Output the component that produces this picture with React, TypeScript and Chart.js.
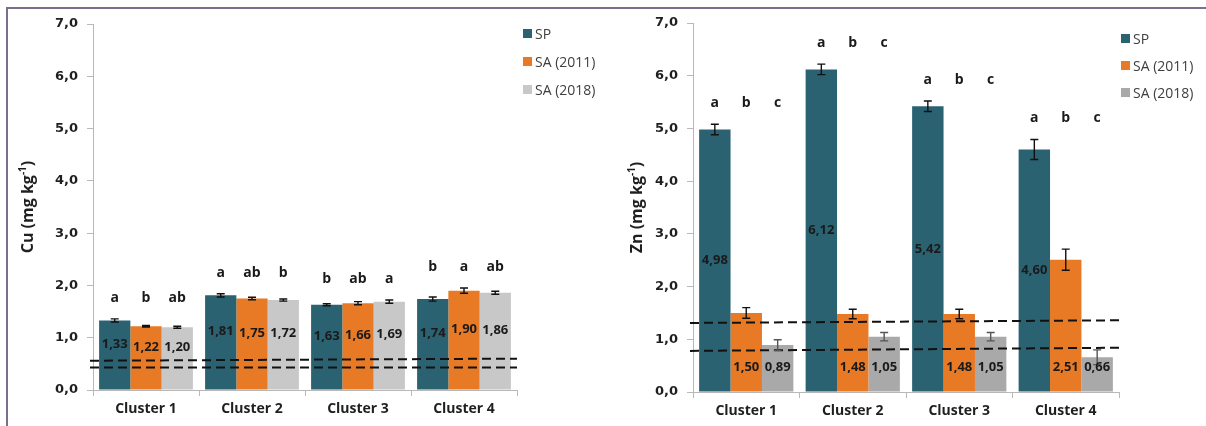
import React, { useEffect, useRef } from "react";
import { Chart, registerables } from "chart.js";
Chart.register(...registerables);

// ---------- data ----------
const clusters = ["Cluster 1", "Cluster 2", "Cluster 3", "Cluster 4"];
const seriesNames = ["SP", "SA (2011)", "SA (2018)"];

const cuSP = [1.33, 1.81, 1.63, 1.74];
const cuSA2011 = [1.22, 1.75, 1.66, 1.9];
const cuSA2018 = [1.2, 1.72, 1.69, 1.86];
const cuErrSP = [0.03, 0.03, 0.02, 0.04];
const cuErrSA2011 = [0.015, 0.025, 0.03, 0.05];
const cuErrSA2018 = [0.02, 0.02, 0.03, 0.03];
const cuLetters = [
  ["a", "b", "ab"],
  ["a", "ab", "b"],
  ["b", "ab", "a"],
  ["b", "a", "ab"],
];
const cuRefLines = [
  [0.56, 0.6],
  [0.43, 0.43],
];

const znSP = [4.98, 6.12, 5.42, 4.6];
const znSA2011 = [1.5, 1.48, 1.48, 2.51];
const znSA2018 = [0.89, 1.05, 1.05, 0.66];
const znErrSP = [0.1, 0.1, 0.1, 0.19];
const znErrSA2011 = [0.1, 0.09, 0.09, 0.2];
const znErrSA2018 = [0.1, 0.08, 0.08, 0.14];
const znLetters = [
  ["a", "b", "c"],
  ["a", "b", "c"],
  ["a", "b", "c"],
  ["a", "b", "c"],
];
const znRefLines = [
  [1.31, 1.36],
  [0.78, 0.84],
];

const yMin = 0;
const yMax = 7;
const yStep = 1;

// ---------- styles ----------
const TEAL = "#2a6272";
const ORANGE = "#e87a25";
const GRAY_LIGHT = "#c8c8c8";
const GRAY_DARK = "#a9a9a9";
const AXIS = "#b8b8b8";
const TEXT = "#1f1f1f";
const FONT = "'Open Sans', 'DejaVu Sans', sans-serif";

const fmt = (v: number, d: number) => v.toFixed(d).replace(".", ",");

type PanelSpec = {
  values: number[][];
  errors: number[][];
  colors: string[];
  errColors: string[];
  letters: string[][];
  refLines: number[][];
  titleMain: string;
  yAxisWidth: number;
  xAxisHeight: number;
  padTop: number;
  padRight: number;
  titleX: number;
  labelMode: "cu" | "zn";
};

function makeOverlay(spec: PanelSpec) {
  return {
    id: "overlay",
    afterDatasetsDraw(chart: any) {
      const ctx = chart.ctx as CanvasRenderingContext2D;
      const yScale = chart.scales.y;
      const area = chart.chartArea;
      ctx.save();
      // reference dashed lines
      ctx.strokeStyle = "#111";
      ctx.lineWidth = 2;
      ctx.setLineDash([9, 5]);
      spec.refLines.forEach((ln) => {
        ctx.beginPath();
        ctx.moveTo(area.left - 3, yScale.getPixelForValue(ln[0]));
        ctx.lineTo(area.right, yScale.getPixelForValue(ln[1]));
        ctx.stroke();
      });
      ctx.setLineDash([]);
      // error bars
      spec.values.forEach((vals, di) => {
        const meta = chart.getDatasetMeta(di);
        ctx.strokeStyle = spec.errColors[di];
        ctx.lineWidth = 1.4;
        vals.forEach((v, i) => {
          const el = meta.data[i];
          const e = spec.errors[di][i];
          const yt = yScale.getPixelForValue(v + e);
          const yb = yScale.getPixelForValue(v - e);
          ctx.beginPath();
          ctx.moveTo(el.x, yt);
          ctx.lineTo(el.x, yb);
          ctx.moveTo(el.x - 4, yt);
          ctx.lineTo(el.x + 4, yt);
          ctx.moveTo(el.x - 4, yb);
          ctx.lineTo(el.x + 4, yb);
          ctx.stroke();
        });
      });
      // value labels
      ctx.fillStyle = "#1a1a1a";
      ctx.font = `bold 13px ${FONT}`;
      ctx.textAlign = "center";
      ctx.textBaseline = "middle";
      spec.values.forEach((vals, di) => {
        const meta = chart.getDatasetMeta(di);
        vals.forEach((v, i) => {
          const el = meta.data[i];
          let y: number;
          if (spec.labelMode === "cu") {
            y = (el.y + el.base) / 2 - 11;
          } else if (di === 0) {
            y = (el.y + el.base) / 2;
          } else {
            y = el.base - 24;
          }
          ctx.fillText(fmt(v, 2), el.x, y);
        });
      });
      // significance letters
      ctx.font = `bold 14px ${FONT}`;
      clusters.forEach((_, i) => {
        let top = Infinity;
        spec.values.forEach((vals, di) => {
          top = Math.min(top, yScale.getPixelForValue(vals[i] + spec.errors[di][i]));
        });
        spec.values.forEach((_v, di) => {
          const el = chart.getDatasetMeta(di).data[i];
          ctx.fillText(spec.letters[i][di], el.x, top - 21);
        });
      });
      // y title
      const cy = (area.top + area.bottom) / 2;
      ctx.translate(spec.titleX, cy);
      ctx.rotate(-Math.PI / 2);
      ctx.textAlign = "left";
      ctx.textBaseline = "middle";
      const big = `bold 16px ${FONT}`;
      const small = `bold 10px ${FONT}`;
      ctx.font = big;
      const w1 = ctx.measureText(spec.titleMain).width;
      const w3 = ctx.measureText(")").width;
      ctx.font = small;
      const w2 = ctx.measureText("-1").width;
      const total = w1 + w2 + w3;
      let x = -total / 2;
      ctx.fillStyle = TEXT;
      ctx.font = big;
      ctx.fillText(spec.titleMain, x, 0);
      x += w1;
      ctx.font = small;
      ctx.fillText("-1", x, -5);
      x += w2;
      ctx.font = big;
      ctx.fillText(")", x, 0);
      ctx.restore();
    },
  };
}

function Panel({ spec }: { spec: PanelSpec }) {
  const ref = useRef<HTMLCanvasElement>(null);
  useEffect(() => {
    if (!ref.current) return;
    const chart = new Chart(ref.current, {
      type: "bar",
      data: {
        labels: clusters,
        datasets: spec.values.map((vals, di) => ({
          label: seriesNames[di],
          data: vals,
          backgroundColor: spec.colors[di],
          borderWidth: 0,
          categoryPercentage: 0.885,
          barPercentage: 1,
        })),
      },
      options: {
        responsive: false,
        animation: false,
        events: [],
        layout: { padding: { left: 0, right: spec.padRight, top: spec.padTop, bottom: 0 } },
        plugins: { legend: { display: false }, tooltip: { enabled: false }, title: { display: false } },
        scales: {
          x: {
            grid: { display: true, drawOnChartArea: false, drawTicks: true, tickLength: 6, color: AXIS, offset: true },
            border: { color: AXIS, width: 1 },
            ticks: { color: TEXT, font: { family: FONT, weight: "bold", size: 14 }, padding: 5 },
            afterFit: (s: any) => {
              s.height = spec.xAxisHeight;
            },
          },
          y: {
            min: yMin,
            max: yMax,
            grid: { display: true, drawOnChartArea: false, drawTicks: true, tickLength: 6, color: AXIS },
            border: { color: AXIS, width: 1 },
            ticks: {
              stepSize: yStep,
              color: TEXT,
              padding: 9,
              font: { family: "'DejaVu Sans', sans-serif", weight: "bold", size: 13 },
              callback: (v: any) => fmt(Number(v), 1),
            },
            afterFit: (s: any) => {
              s.width = spec.yAxisWidth;
            },
          },
        },
      } as any,
      plugins: [makeOverlay(spec)],
    });
    return () => chart.destroy();
  }, [spec]);
  return <canvas ref={ref} width={603} height={426} style={{ display: "block" }} />;
}

function Legend({ colors, left, tops }: { colors: string[]; left: number; tops: number[] }) {
  return (
    <>
      {seriesNames.map((n, i) => (
        <div
          key={n}
          style={{
            position: "absolute",
            left,
            top: tops[i] - 10,
            height: 20,
            display: "flex",
            alignItems: "center",
            fontFamily: FONT,
            fontSize: 14,
            color: "#404040",
            whiteSpace: "nowrap",
          }}
        >
          <span style={{ display: "inline-block", width: 9, height: 9, background: colors[i], marginRight: 3 }} />
          {n}
        </div>
      ))}
    </>
  );
}

const cuSpec: PanelSpec = {
  values: [cuSP, cuSA2011, cuSA2018],
  errors: [cuErrSP, cuErrSA2011, cuErrSA2018],
  colors: [TEAL, ORANGE, GRAY_LIGHT],
  errColors: ["#111", "#111", "#111"],
  letters: cuLetters,
  refLines: cuRefLines,
  titleMain: "Cu (mg kg",
  yAxisWidth: 93,
  xAxisHeight: 36,
  padTop: 24,
  padRight: 86,
  titleX: 28,
  labelMode: "cu",
};

const znSpec: PanelSpec = {
  values: [znSP, znSA2011, znSA2018],
  errors: [znErrSP, znErrSA2011, znErrSA2018],
  colors: [TEAL, ORANGE, GRAY_DARK],
  errColors: ["#111", "#111", "#555"],
  letters: znLetters,
  refLines: znRefLines,
  titleMain: "Zn (mg kg",
  yAxisWidth: 90,
  xAxisHeight: 34,
  padTop: 23,
  padRight: 87,
  titleX: 34,
  labelMode: "zn",
};

export default function App() {
  return (
    <div style={{ position: "absolute", left: 0, top: 0, width: 1206, height: 426, background: "#fff", overflow: "hidden" }}>
      <div style={{ position: "absolute", left: 0, top: 0 }}>
        <Panel spec={cuSpec} />
      </div>
      <div style={{ position: "absolute", left: 603, top: 0 }}>
        <Panel spec={znSpec} />
      </div>
      <div
        style={{
          position: "absolute",
          left: 6,
          top: 7,
          width: 1200,
          height: 419,
          borderTop: "2px solid #7b6d8c",
          borderLeft: "2px solid #7b6d8c",
          boxSizing: "border-box",
          pointerEvents: "none",
        }}
      />
      <Legend colors={[TEAL, ORANGE, GRAY_LIGHT]} left={523} tops={[33, 61, 89]} />
      <Legend colors={[TEAL, ORANGE, GRAY_DARK]} left={1121} tops={[38, 65, 92]} />
    </div>
  );
}
